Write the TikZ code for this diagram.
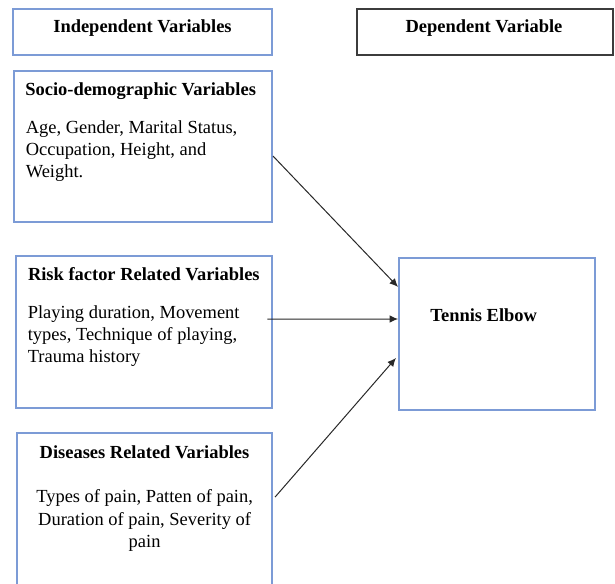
\documentclass[tikz,border=0pt]{standalone}
\usepackage{fontspec}
\setmainfont{LiberationSerif-Regular.ttf}[BoldFont=LiberationSerif-Bold.ttf, ItalicFont=LiberationSerif-Italic.ttf]
\usetikzlibrary{positioning, calc, arrows.meta}
\definecolor{boxblue}{RGB}{124,155,214}
\definecolor{boxdark}{RGB}{60,60,60}
\definecolor{arrowgray}{RGB}{40,40,40}

\begin{document}
\begin{tikzpicture}
    [
        x=0.65pt, y=-0.65pt,
        basic/.style = {draw, inner sep=0pt, outer sep=0pt, line width=0.7pt},
        bluebox/.style = {basic, draw=boxblue},
        darkbox/.style = {basic, draw=boxdark, line width=0.9pt},
        heading/.style = {inner sep=0pt, font=\bfseries\fontsize{12pt}{14pt}\selectfont},
        bodytext/.style = {inner sep=0pt, font=\fontsize{12pt}{14.1pt}\selectfont, align=left},
        >={Latex[length=5.5pt, width=5pt]}
    ]
    \useasboundingbox (0,0) rectangle (615,583);

    % boxes
    \node [bluebox, minimum width=168.35pt, minimum height=29.9pt] (indep) at (142.5,32) {};
    \node [darkbox, minimum width=166.4pt, minimum height=29.9pt] (dep) at (485,32) {};
    \node [bluebox, minimum width=167.7pt, minimum height=98.15pt] (socio) at (143,146.5) {};
    \node [bluebox, minimum width=166.4pt, minimum height=98.8pt] (risk) at (144,332) {};
    \node [bluebox, minimum width=127.4pt, minimum height=98.8pt] (tennis) at (497,334) {};
    \node [bluebox, minimum width=165.75pt, minimum height=102.05pt] (disease) at (144.5,511.5) {};

    % texts
    \node [heading, anchor=base] (indepT) at (142.5,32.3) {Independent Variables};
    \node [heading, anchor=base] (depT) at (484,32.3) {Dependent Variable};

    \node [heading, anchor=base west] (socioT) at (25,95) {Socio-demographic Variables};
    \node [bodytext, anchor=north west] (socioB) at (25.5,120.7) {Age, Gender, Marital Status,\\Occupation, Height, and\\Weight.};

    \node [heading, anchor=base west] (riskT) at (27.7,280.7) {Risk factor Related Variables};
    \node [bodytext, anchor=north west] (riskB) at (27.5,305.7) {Playing duration, Movement\\types, Technique of playing,\\Trauma history};

    \node [heading, anchor=base] (tennisT) at (483.7,321.7) {Tennis Elbow};

    \node [heading, anchor=base] (diseaseT) at (144.5,458.3) {Diseases Related Variables};
    \node [bodytext, align=center, font=\fontsize{12pt}{14.75pt}\selectfont, anchor=north] (diseaseB) at (144.6,489) {Types of pain, Patten of pain,\\Duration of pain, Severity of\\pain};

    % arrows
    \draw [->, arrowgray, line width=0.65pt] ([xshift=0.65pt, yshift=-6.2pt]socio.east) -- ([xshift=-0.65pt, yshift=30.6pt]tennis.west);
    \draw [->, arrowgray, line width=0.65pt] ([xshift=-3pt, yshift=8.45pt]risk.east) -- ([xshift=-0.65pt, yshift=9.75pt]tennis.west);
    \draw [->, arrowgray, line width=0.65pt] ([xshift=2pt, yshift=9.4pt]disease.east) -- ([xshift=-2pt, yshift=-15.6pt]tennis.west);

\end{tikzpicture}
\end{document}
